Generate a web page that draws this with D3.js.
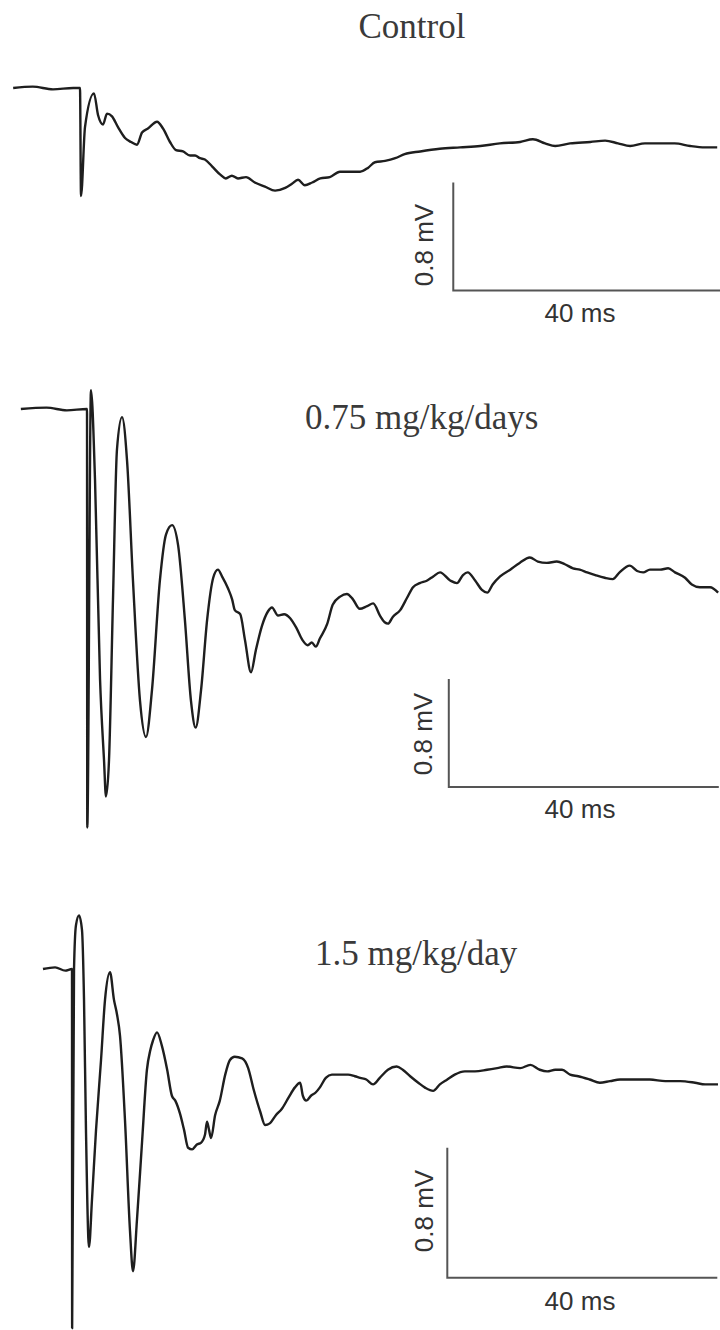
<!DOCTYPE html>
<html><head><meta charset="utf-8">
<script src="https://cdn.jsdelivr.net/npm/d3@7"></script>
<style>body{margin:0;background:#fff}svg{display:block}</style>
</head><body>
<script>
// ---- Data: time (ms, 0 = stimulus) and amplitude (mV, 0 = pre-stimulus baseline)
const panelTitles = ["Control", "0.75 mg/kg/days", "1.5 mg/kg/day"];
const scaleBarLabels = { amplitude: "0.8 mV", time: "40 ms" };
const scaleBarSize = { ms: 40, mV: 0.8 };

const controlTrace = [
 [-9.9,0],[-7,0.01],[-4,-0.01],[-1,0.0],[0,0],[0.15,-0.80],[0.74,-0.29],[2.07,-0.04],[2.67,-0.20],[3.41,-0.27],
 [4.0,-0.19],[4.74,-0.21],[5.63,-0.29],[6.67,-0.37],[7.56,-0.40],[8.44,-0.42],[9.19,-0.33],[10.07,-0.30],
 [11.41,-0.25],[12.3,-0.30],[13.33,-0.40],[14.22,-0.46],[15.26,-0.47],[16.3,-0.50],[17.04,-0.50],[17.78,-0.52],
 [18.5,-0.53],[19.56,-0.58],[20.74,-0.64],[21.6,-0.67],[22.5,-0.65],[23.4,-0.67],[24.6,-0.66],[25.9,-0.70],
 [27.4,-0.73],[28.9,-0.76],[30.4,-0.74],[31.4,-0.71],[32.3,-0.68],[33.3,-0.72],[34.4,-0.70],[35.6,-0.67],
 [37.0,-0.66],[38.5,-0.62],[40.0,-0.62],[41.5,-0.62],[42.7,-0.59],[43.7,-0.55],[45.2,-0.54],[46.7,-0.52],
 [48.1,-0.49],[50.4,-0.47],[53.3,-0.45],[56.3,-0.44],[59.3,-0.43],[62.2,-0.41],[65.2,-0.40],[67.1,-0.38],
 [68.9,-0.41],[70.4,-0.43],[72.6,-0.41],[75.6,-0.40],[77.8,-0.39],[79.7,-0.41],[81.5,-0.43],[83.7,-0.41],
 [85.9,-0.41],[88.1,-0.41],[90.4,-0.43],[92.6,-0.44],[94.4,-0.44]
];

const lowDoseTrace = [
 [-9.8,0],[-6,0.01],[-3,-0.01],[0,0],[0.04,-3.10],[0.59,0.14],[1.19,-0.53],[1.93,-2.0],[2.52,-2.6],[2.81,-2.87],
 [3.26,-2.6],[3.85,-1.41],[4.44,-0.30],[5.19,-0.06],[5.93,-0.38],[6.81,-1.27],[7.85,-2.16],[8.74,-2.43],
 [9.63,-2.08],[10.8,-1.27],[11.7,-0.93],[12.6,-0.86],[13.5,-1.01],[14.5,-1.56],[15.4,-2.16],[16.1,-2.36],
 [16.9,-2.08],[17.8,-1.56],[18.7,-1.25],[19.4,-1.19],[20.0,-1.24],[20.9,-1.33],[21.5,-1.41],[21.9,-1.49],
 [22.7,-1.52],[23.4,-1.71],[24.3,-1.95],[25.0,-1.79],[25.9,-1.61],[26.8,-1.50],[27.4,-1.47],[28.3,-1.53],
 [29.2,-1.52],[30.1,-1.55],[31.0,-1.62],[31.9,-1.71],[32.7,-1.75],[33.3,-1.73],[33.9,-1.76],[34.5,-1.70],
 [35.6,-1.59],[36.4,-1.45],[37.5,-1.39],[38.5,-1.37],[39.4,-1.41],[40.4,-1.48],[41.5,-1.46],[42.4,-1.44],
 [43.4,-1.53],[44.1,-1.58],[44.6,-1.59],[45.3,-1.54],[46.4,-1.49],[47.4,-1.40],[48.3,-1.32],[49.3,-1.29],
 [50.4,-1.27],[51.3,-1.24],[52.3,-1.21],[53.8,-1.27],[54.8,-1.29],[55.7,-1.23],[56.4,-1.21],[57.5,-1.27],
 [58.5,-1.34],[59.3,-1.36],[60.1,-1.30],[61.2,-1.24],[62.7,-1.19],[64.1,-1.14],[65.6,-1.10],[66.8,-1.13],
 [68.1,-1.14],[69.6,-1.13],[70.8,-1.15],[72.0,-1.18],[73.0,-1.19],[74.1,-1.21],[75.3,-1.23],[76.7,-1.25],
 [77.9,-1.26],[78.9,-1.21],[80.4,-1.16],[81.5,-1.20],[82.4,-1.21],[83.4,-1.19],[84.9,-1.19],[86.1,-1.18],
 [87.1,-1.21],[88.6,-1.25],[89.6,-1.30],[90.8,-1.32],[92.3,-1.32],[93.5,-1.36]
];

const highDoseTrace = [
 [-4.3,0],[-2.5,0.01],[-1,-0.01],[0,0],[0.02,-2.21],[0.30,0],[0.59,0.27],[1.04,0.33],[1.48,0.24],[1.78,-0.19],
 [2.07,-0.99],[2.52,-1.71],[2.96,-1.42],[3.56,-0.99],[4.30,-0.56],[4.89,-0.19],[5.63,-0.02],[6.22,-0.19],
 [6.67,-0.28],[7.11,-0.41],[7.85,-0.93],[8.59,-1.61],[9.04,-1.86],[9.63,-1.54],[10.4,-1.05],[11.1,-0.62],
 [11.6,-0.50],[12.0,-0.44],[12.6,-0.39],[13.3,-0.47],[14.1,-0.62],[14.8,-0.78],[15.3,-0.81],[16.0,-0.89],
 [16.6,-0.99],[17.2,-1.10],[17.8,-1.11],[18.5,-1.08],[19.1,-1.07],[19.7,-1.02],[20.0,-0.94],[20.3,-0.99],
 [20.6,-1.04],[21.2,-0.90],[21.9,-0.81],[22.7,-0.65],[23.4,-0.56],[24.1,-0.54],[25.2,-0.55],[26.1,-0.61],
 [26.9,-0.74],[27.9,-0.88],[28.6,-0.96],[29.3,-0.95],[30.2,-0.90],[31.1,-0.86],[32.1,-0.79],[33.0,-0.73],
 [33.8,-0.70],[34.2,-0.78],[34.7,-0.81],[35.4,-0.78],[36.1,-0.76],[36.7,-0.73],[37.6,-0.67],[38.5,-0.65],
 [39.7,-0.65],[40.9,-0.65],[41.9,-0.66],[42.7,-0.67],[43.6,-0.68],[44.6,-0.71],[45.6,-0.67],[46.8,-0.62],
 [48.1,-0.60],[49.0,-0.62],[50.1,-0.66],[51.3,-0.70],[52.3,-0.73],[53.5,-0.75],[54.5,-0.71],[55.6,-0.68],
 [56.7,-0.65],[58.2,-0.63],[59.7,-0.63],[61.5,-0.62],[63.0,-0.61],[64.4,-0.60],[66.4,-0.61],[67.9,-0.59],
 [69.3,-0.62],[70.4,-0.63],[71.6,-0.62],[72.6,-0.62],[73.8,-0.65],[75.0,-0.66],[76.7,-0.68],[78.2,-0.70],
 [79.7,-0.69],[81.2,-0.68],[83.5,-0.68],[85.6,-0.68],[87.9,-0.69],[90.1,-0.69],[92.3,-0.70],[93.8,-0.71],
 [95.7,-0.71]
];

// scale bar origin (corner) in data units per panel: [ms, mV]
const scaleBarOrigins = [[55.3,-1.50],[53.6,-2.80],[55.6,-1.90]];

// ---- Layout (pixels)
const W = 720, H = 1330;
const layout = [
  { x0: 80, y0: 88,  pxPerMs: 6.75, pxPerMv: 135,   title: [412, 38,  "middle"], ampLbl: [433, 245],  timeLbl: [580, 322] },
  { x0: 87, y0: 409, pxPerMs: 6.75, pxPerMv: 135,   title: [305, 429, "start"],  ampLbl: [432, 734],  timeLbl: [580, 818] },
  { x0: 72, y0: 969, pxPerMs: 6.75, pxPerMv: 162.5, title: [315, 965, "start"],  ampLbl: [433, 1211], timeLbl: [580, 1310] }
];
const traces = [controlTrace, lowDoseTrace, highDoseTrace];

const svg = d3.select("body").append("svg").attr("width", W).attr("height", H);

traces.forEach((trace, i) => {
  const L = layout[i];
  const x = d3.scaleLinear().domain([0, 1]).range([L.x0, L.x0 + L.pxPerMs]);
  const y = d3.scaleLinear().domain([0, -1]).range([L.y0, L.y0 + L.pxPerMv]);
  const g = svg.append("g");

  g.append("text")
    .attr("x", L.title[0]).attr("y", L.title[1])
    .attr("text-anchor", L.title[2])
    .attr("font-family", "'Liberation Serif','Times New Roman',serif")
    .attr("font-size", 35).attr("fill", "#3a3a3a")
    .text(panelTitles[i]);

  const line = d3.line().x(d => x(d[0])).y(d => y(d[1])).curve(d3.curveMonotoneX);
  g.append("path").datum(trace)
    .attr("d", line)
    .attr("fill", "none").attr("stroke", "#1e1e1e")
    .attr("stroke-width", 2.4).attr("stroke-linejoin", "round");

  const [bt, bv] = scaleBarOrigins[i];
  g.append("path")
    .attr("d", d3.line()([[x(bt), y(bv + scaleBarSize.mV)], [x(bt), y(bv)], [x(bt + scaleBarSize.ms), y(bv)]]))
    .attr("fill", "none").attr("stroke", "#555").attr("stroke-width", 2);

  g.append("text")
    .attr("transform", `translate(${L.ampLbl[0]},${L.ampLbl[1]}) rotate(-90)`)
    .attr("text-anchor", "middle")
    .attr("font-family", "'Liberation Sans',Arial,sans-serif")
    .attr("font-size", 26).attr("fill", "#333")
    .text(scaleBarLabels.amplitude);

  g.append("text")
    .attr("x", L.timeLbl[0]).attr("y", L.timeLbl[1])
    .attr("text-anchor", "middle")
    .attr("font-family", "'Liberation Sans',Arial,sans-serif")
    .attr("font-size", 26).attr("fill", "#333")
    .text(scaleBarLabels.time);
});
</script>
</body></html>
